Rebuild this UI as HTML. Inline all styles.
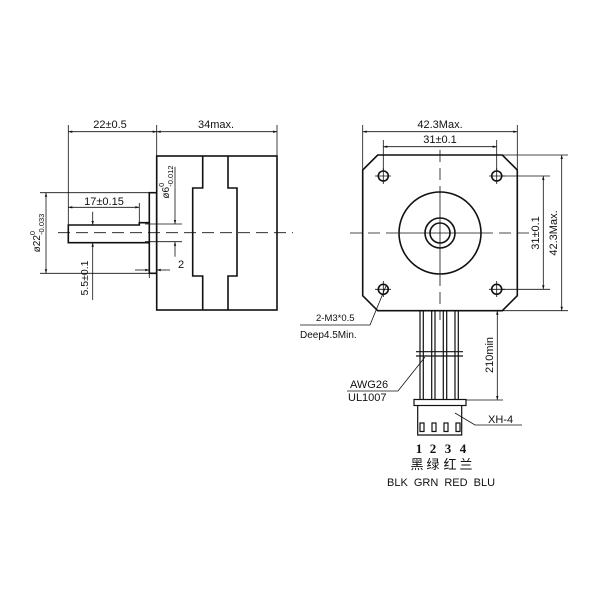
<!DOCTYPE html>
<html><head><meta charset="utf-8"><style>body{margin:0;background:#fff}svg{display:block}</style></head><body>
<svg width="600" height="600" viewBox="0 0 600 600" xmlns="http://www.w3.org/2000/svg" font-family="Liberation Sans, sans-serif" fill="none" stroke="#111" stroke-width="1">
<defs>
<marker id="a" viewBox="0 0 10 10" refX="10" refY="5" markerWidth="7" markerHeight="5" orient="auto-start-reverse"><path d="M0,2 L10,5 L0,8 z" fill="#111" stroke="none"/></marker>
</defs>
<g stroke-width="1.6">
<rect x="156.7" y="156" width="120.3" height="154"/>
<path d="M202.7,156 V188 H192.7 V276 H202.7 V310 M228,156 V188 H237 V276 H228 V310"/>
<rect x="149.3" y="192.7" width="7.4" height="80.6"/>
<path d="M149.3,222.7 H139.3 V225 H68.3 V242.7 H149.3"/>
</g>
<path d="M58,232.7 H293" stroke-dasharray="12,6" stroke-width="0.8"/>
<g stroke-width="0.8">
<path d="M68.3,125 V225 M156.7,125 V156 M277,125 V156"/>
<path d="M68.3,131.7 H156.7" marker-start="url(#a)" marker-end="url(#a)"/>
<path d="M156.7,131.7 H277" marker-start="url(#a)" marker-end="url(#a)"/>
<path d="M68.3,207.3 H139.3" marker-start="url(#a)" marker-end="url(#a)"/>
<path d="M139.3,203 V222.7"/>
<path d="M40,192.7 H149.3 M40,273.3 H149.3"/>
<path d="M46,192.7 V273.3" marker-start="url(#a)" marker-end="url(#a)"/>
<path d="M92.7,211.7 V225" marker-end="url(#a)"/>
<path d="M92.7,300 V242.7" marker-end="url(#a)"/>
<path d="M145,224 H182 M145,241.7 H182"/>
<path d="M175,166.7 V224" marker-end="url(#a)"/>
<path d="M175,256.7 V241.7" marker-end="url(#a)"/>
<path d="M135,270 H149.3" marker-end="url(#a)"/>
<path d="M170,270 H156.7" marker-end="url(#a)"/>
<path d="M149.3,273.3 V278 M156.7,273.3 V278"/>
</g>
<g fill="#111" stroke="none" font-size="11">
<text x="110" y="128" text-anchor="middle">22±0.5</text>
<text x="216" y="128" text-anchor="middle">34max.</text>
<text x="104" y="205" text-anchor="middle">17±0.15</text>
<text x="178" y="268">2</text>
<text transform="translate(40,233) rotate(-90)" text-anchor="middle" font-size="10">ø22<tspan dy="-5" font-size="7.5">0</tspan><tspan dx="-4" dy="9" font-size="7.5">-0.033</tspan></text>
<text transform="translate(96,278) rotate(-90)" text-anchor="middle" font-size="10.5" y="-8">5.5±0.1</text>
<text transform="translate(169,182) rotate(-90)" text-anchor="middle" font-size="10">ø6<tspan dy="-5" font-size="7.5">0</tspan><tspan dx="-4" dy="9" font-size="7.5">-0.012</tspan></text>
</g>
<g stroke-width="1.6">
<path d="M377.7,155 H502.3 L517.3,170 V295.7 L502.3,310.7 H377.7 L362.7,295.7 V170 Z"/>
<circle cx="440" cy="233" r="41"/>
<circle cx="440" cy="233" r="15"/>
<circle cx="440" cy="233" r="10"/>
<circle cx="383.3" cy="176" r="5"/><circle cx="496.7" cy="176" r="5"/>
<circle cx="383.3" cy="289.3" r="5"/><circle cx="496.7" cy="289.3" r="5"/>
</g>
<g stroke-width="0.8">
<path d="M399,233 H481 M440,192 V274 M437,233 H443 M440,230 V236"/>
<path d="M350,233 H399 M481,233 H530 M440,150 V192 M440,274 V320" stroke-dasharray="12,6"/>
<path d="M375,176 H391 M383.3,168 V184 M489,176 H505 M496.7,168 V184 M375,289.3 H391 M383.3,281 V297 M489,289.3 H505 M496.7,281 V297"/>
<path d="M362.7,125 V170 M517.3,125 V170 M383.3,140 V171 M496.7,140 V171"/>
<path d="M362.7,131.7 H517.3" marker-start="url(#a)" marker-end="url(#a)"/>
<path d="M383.3,146.7 H496.7" marker-start="url(#a)" marker-end="url(#a)"/>
<path d="M502,155 H568 M502,310.7 H568 M502,176 H550 M502,289.3 H550"/>
<path d="M543.3,176 V289.3" marker-start="url(#a)" marker-end="url(#a)"/>
<path d="M561.7,155 V310.7" marker-start="url(#a)" marker-end="url(#a)"/>
<path d="M300,325 H370 L386,286"/>
<path d="M347,391 H398 L425,357"/>
<path d="M522,425 H475 L455,413"/>
<path d="M460,310.7 H503 M466,400 H503"/>
<path d="M497.3,310.7 V400" marker-start="url(#a)" marker-end="url(#a)"/>
</g>
<g stroke-width="1.2">
<path d="M420,310.7 V399 M423.3,310.7 V399 M431.7,310.7 V399 M435,310.7 V399 M443.3,310.7 V399 M446.7,310.7 V399 M455,310.7 V399 M458.3,310.7 V399"/>
<path d="M416,351.7 H463 M416,356 H463"/>
<rect x="414" y="399.5" width="52" height="6"/>
<path d="M417.7,405.5 V435 H461.7 V405.5"/>
<rect x="420" y="423" width="4" height="8.5"/><rect x="432" y="423" width="4" height="8.5"/><rect x="444" y="423" width="4" height="8.5"/><rect x="456" y="423" width="4" height="8.5"/>
</g>
<g fill="#111" stroke="none" font-size="11">
<text x="440" y="128" text-anchor="middle">42.3Max.</text>
<text x="440" y="143" text-anchor="middle">31±0.1</text>
<text transform="translate(539,233) rotate(-90)" text-anchor="middle">31±0.1</text>
<text transform="translate(557,233) rotate(-90)" text-anchor="middle">42.3Max.</text>
<text transform="translate(493,355) rotate(-90)" text-anchor="middle">210min</text>
<text x="316" y="321" font-size="9.5">2-M3*0.5</text>
<text x="300" y="338" font-size="10">Deep4.5Min.</text>
<text x="350" y="388">AWG26</text>
<text x="348" y="401">UL1007</text>
<text x="488" y="423">XH-4</text>
<g font-family="Liberation Serif, serif" font-weight="bold" font-size="13" text-anchor="middle">
<text x="419" y="453">1</text><text x="433" y="453">2</text><text x="448" y="453">3</text><text x="463" y="453">4</text>
</g>
<g font-size="13" font-family="Liberation Sans, Noto Sans CJK SC, sans-serif" text-anchor="middle">
<text x="417" y="469">黑</text><text x="433" y="469">绿</text><text x="450" y="469">红</text><text x="466" y="469">兰</text>
</g>
<text x="441" y="486" text-anchor="middle" font-size="11" word-spacing="3">BLK GRN RED BLU</text>
</g>
</svg>
</body></html>
